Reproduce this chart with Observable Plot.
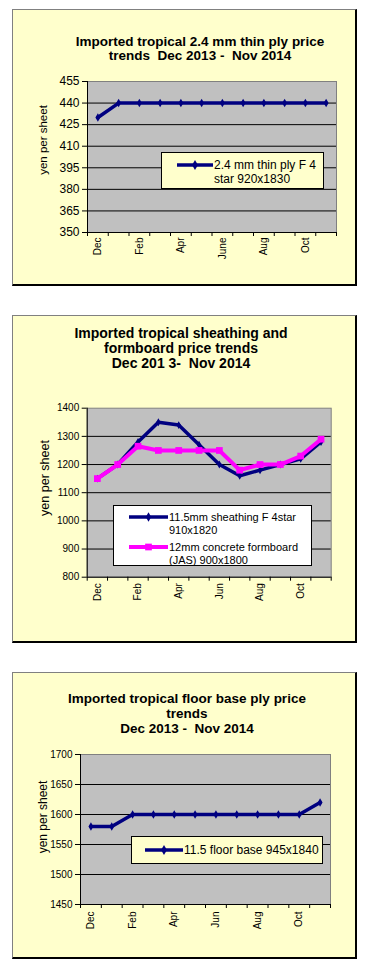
<!DOCTYPE html>
<html><head><meta charset="utf-8">
<script src="https://cdn.jsdelivr.net/npm/d3@7"></script>
<script src="https://cdn.jsdelivr.net/npm/@observablehq/plot@0.6"></script>
<style>
body{margin:0;background:#fff;font-family:"Liberation Sans",Arial,sans-serif;color:#000;}
#page{position:relative;width:371px;height:968px;overflow:hidden;}
.panel{position:absolute;left:12px;width:345px;box-sizing:border-box;background:#ffffcc;border-left:1px solid #808080;border-top:1px solid #808080;border-right:2px solid #000;border-bottom:2px solid #000;}
.title{position:absolute;width:330px;text-align:center;font-weight:bold;white-space:pre;}
.chart{position:absolute;left:0;}
.legend{position:absolute;box-sizing:border-box;border:1px solid #000;}
.legend svg{position:absolute;left:0;top:0;overflow:visible;}
.ylab{position:absolute;width:120px;height:16px;line-height:16px;text-align:center;white-space:nowrap;transform:rotate(-90deg);}
</style></head>
<body><div id="page"></div>
<script>
// ---- data ----
const months = ["Dec","Jan","Feb","Mar","Apr","May","Jun","Jul","Aug","Sep","Oct","Nov"];
const labels1 = ["Dec","","Feb","","Apr","","June","","Aug","","Oct",""];
const labels23 = ["Dec","","Feb","","Apr","","Jun","","Aug","","Oct",""];

const thinPly = [430,440,440,440,440,440,440,440,440,440,440,440];
const sheathing = [1150,1200,1280,1350,1340,1270,1200,1160,1180,1200,1220,1280];
const formboard = [1150,1200,1265,1250,1250,1250,1250,1180,1200,1200,1230,1290];
const floorBase = [1580,1580,1600,1600,1600,1600,1600,1600,1600,1600,1600,1620];

const yTicks1 = [350,365,380,395,410,425,440,455];
const yTicks2 = [800,900,1000,1100,1200,1300,1400];
const yTicks3 = [1450,1500,1550,1600,1650,1700];

const title1 = ["Imported tropical 2.4 mm thin ply price","trends  Dec 2013 -  Nov 2014"];
const title2 = ["Imported tropical sheathing and","formboard price trends","Dec 201 3-  Nov 2014"];
const title3 = ["Imported tropical floor base ply price","trends","Dec 2013 -  Nov 2014"];

const legend1 = [["2.4 mm thin ply F 4","star 920x1830"]];
const legend2 = [["11.5mm sheathing F 4star","910x1820"],["12mm concrete formboard","(JAS) 900x1800"]];
const legend3 = [["11.5 floor base 945x1840"]];

const yLabel = "yen per sheet";
const NAVY = "#000080", PINK = "#ff00ff";

const page = document.getElementById("page");

function panel(top, height){
  const d = document.createElement("div");
  d.className = "panel";
  d.style.top = top + "px"; d.style.height = height + "px";
  page.appendChild(d);
}
function title(lines, cx, top, size, lh){
  const d = document.createElement("div");
  d.className = "title";
  d.style.left = (cx - 165) + "px"; d.style.top = top + "px";
  d.style.fontSize = size + "px"; d.style.lineHeight = lh + "px";
  d.textContent = lines.join("\n");
  page.appendChild(d);
}
function ylab(cx, cy, size){
  const d = document.createElement("div");
  d.className = "ylab";
  d.style.left = (cx - 60) + "px"; d.style.top = (cy - 8) + "px";
  d.style.fontSize = size + "px";
  d.textContent = yLabel;
  page.appendChild(d);
}

function chart(o){
  const n = months.length;
  const series = o.series.map(s => months.map((m,i) => ({i, month: m, value: s.values[i]})));
  const bounds = d3.range(n + 1).map(k => k - 0.5);
  const labIdx = d3.range(n).filter(i => o.labels[i]);
  const marks = [
    Plot.frame({fill:"#c0c0c0", stroke:"#808080"}),
    Plot.gridY(o.yTicks.slice(1,-1), {stroke:"#000", strokeOpacity:1, strokeWidth:1}),
    Plot.ruleX([bounds[0]], {stroke:"#000"}),
    Plot.ruleY([o.yTicks[0]], {stroke:"#000"}),
    Plot.axisY(o.yTicks, {tickSize:5, tickPadding:3, fontSize:o.tickFont, label:null, tickFormat:d=>String(d)}),
    Plot.axisX(bounds, {tickSize:4, tickFormat:()=>"", label:null}),
    Plot.axisX(labIdx, {tickSize:0, tickPadding:o.labPad, tickRotate:-90, fontSize:10, tickFormat:i=>o.labels[i], label:null})
  ];
  o.series.forEach((s,k) => {
    marks.push(Plot.line(series[k], {x:"i", y:"value", stroke:s.color, strokeWidth:s.width}));
    marks.push(Plot.dot(series[k], {x:"i", y:"value", symbol:s.symbol, r:s.r, fill:s.color, stroke:"none"}));
  });
  const svg = Plot.plot({
    width:371, height:o.height,
    marginTop:o.mt, marginBottom:o.mb, marginLeft:o.ml, marginRight:o.mr,
    style:{background:"transparent", fontFamily:'"Liberation Sans", Arial, sans-serif', color:"#000", overflow:"visible"},
    x:{domain:[bounds[0], bounds[n]]},
    y:{domain:[o.yTicks[0], o.yTicks[o.yTicks.length-1]]},
    marks
  });
  svg.classList.add("chart");
  svg.style.top = o.top + "px";
  page.appendChild(svg);
}

function legend(o){
  const d = document.createElement("div");
  d.className = "legend";
  Object.assign(d.style, {left:o.x+"px", top:o.y+"px", width:o.w+"px", height:o.h+"px", background:o.fill});
  page.appendChild(d);
  const svg = d3.select(d).append("svg").attr("width", o.w).attr("height", o.h);
  o.items.forEach((it, k) => {
    const y = o.rows[k];
    svg.append("line").attr("x1", o.lx0).attr("x2", o.lx1).attr("y1", y).attr("y2", y)
      .attr("stroke", it.color).attr("stroke-width", it.width);
    svg.append("path").attr("transform", `translate(${(o.lx0+o.lx1)/2},${y})`)
      .attr("d", d3.symbol(it.symbol === "square" ? d3.symbolSquare : d3.symbolDiamond, it.size)())
      .attr("fill", it.color);
    it.text.forEach((t, j) => {
      svg.append("text").attr("x", o.tx).attr("y", y + j * o.lh).attr("dy", "0.35em")
        .attr("font-size", o.font).attr("font-family", '"Liberation Sans", Arial, sans-serif')
        .text(t);
    });
  });
}

// ---- panel 1 ----
panel(9, 277);
title(title1, 200, 35, 13.5, 13.5);
chart({top:60, height:220, mt:21, mb:48, ml:87, mr:35, yTicks:yTicks1, tickFont:12, labels:labels1, labPad:5,
  series:[{values:thinPly, color:NAVY, width:3.5, symbol:"diamond", r:2.6}]});
ylab(43, 140, 11.5);
legend({x:161, y:152, w:163, h:37, fill:"#ffffcc", lx0:15, lx1:51, tx:52, lh:14, font:12, rows:[12],
  items:[{color:NAVY, width:3.5, symbol:"diamond", size:30, text:legend1[0]}]});

// ---- panel 2 ----
panel(315, 328);
title(title2, 181, 325.5, 14, 15);
chart({top:390, height:240, mt:17.7, mb:53.3, ml:86.7, mr:40.3, yTicks:yTicks2, tickFont:10, labels:labels23, labPad:6,
  series:[{values:sheathing, color:NAVY, width:3.5, symbol:"diamond", r:2.4},
          {values:formboard, color:PINK, width:4, symbol:"square", r:3.8}]});
ylab(45, 478, 12.5);
legend({x:113, y:505, w:199, h:61, fill:"#ffffff", lx0:15, lx1:54, tx:55, lh:13, font:11, rows:[11,41],
  items:[{color:NAVY, width:3.5, symbol:"diamond", size:25, text:legend2[0]},
         {color:PINK, width:4, symbol:"square", size:45, text:legend2[1]}]});

// ---- panel 3 ----
panel(672, 287);
title(title3, 187, 690.5, 13.5, 15);
chart({top:740, height:210, mt:14, mb:46, ml:80, mr:41, yTicks:yTicks3, tickFont:10, labels:labels23, labPad:7,
  series:[{values:floorBase, color:NAVY, width:3.5, symbol:"diamond", r:2.6}]});
ylab(43, 817, 12);
legend({x:131, y:836, w:192, h:28, fill:"#ffffcc", lx0:13, lx1:51, tx:52, lh:14, font:12, rows:[13],
  items:[{color:NAVY, width:3.5, symbol:"diamond", size:30, text:legend3[0]}]});
</script></body></html>
